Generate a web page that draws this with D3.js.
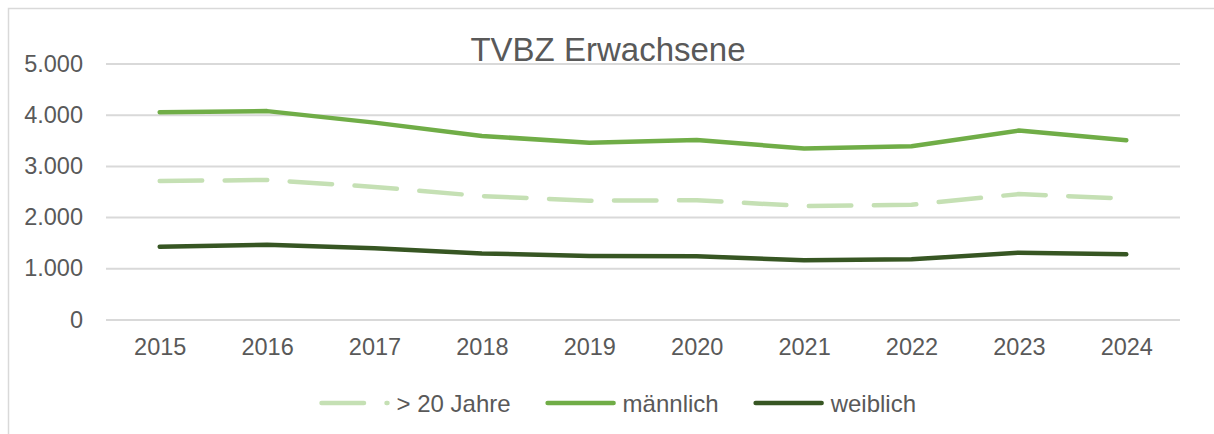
<!DOCTYPE html>
<html lang="de">
<head>
    <meta charset="UTF-8">
    <title>TVBZ Erwachsene</title>
    <script src="https://d3js.org/d3.v7.min.js"></script>
    <style>
        body { margin: 0; background: #fff; }
        text { font-family: "Liberation Sans", Arial, sans-serif; fill: #595959; }
    </style>
</head>
<body>
    <div id="chart-container"></div>

    <script>
        // data
        const years = ["2015", "2016", "2017", "2018", "2019", "2020", "2021", "2022", "2023", "2024"];
        const ueber20 = [2705, 2725, 2590, 2410, 2320, 2330, 2215, 2240, 2450, 2360];
        const maennlich = [4050, 4070, 3845, 3585, 3450, 3505, 3340, 3385, 3690, 3500];
        const weiblich = [1420, 1460, 1390, 1290, 1240, 1235, 1155, 1175, 1305, 1273];
        const yTicks = [0, 1000, 2000, 3000, 4000, 5000];

        const series = [
            { name: "> 20 Jahre", values: ueber20, color: "#C5E0B4", dash: "42.5,22.5" },
            { name: "männlich", values: maennlich, color: "#70AD47", dash: null },
            { name: "weiblich", values: weiblich, color: "#375623", dash: null }
        ];

        const width = 1214, height = 434;

        const svg = d3.select("#chart-container")
            .append("svg")
            .attr("width", width)
            .attr("height", height);

        // chart frame (cut off at right/bottom like the screenshot)
        svg.append("rect")
            .attr("x", 8.5).attr("y", 8.5)
            .attr("width", 1400).attr("height", 600)
            .attr("fill", "none")
            .attr("stroke", "#D9D9D9")
            .attr("stroke-width", 1.5);

        const x = d3.scalePoint()
            .domain(years)
            .range([106, 1180])
            .padding(0.5);

        const y = d3.scaleLinear()
            .domain([0, 5000])
            .range([319.5, 63.5]);

        const de = d3.formatLocale({ decimal: ",", thousands: ".", grouping: [3], currency: ["", " €"] });

        // gridlines + y labels
        const yAxis = svg.append("g")
            .attr("class", "y-axis")
            .attr("transform", "translate(106,0)")
            .call(d3.axisLeft(y).tickValues(yTicks).tickSize(-1074).tickPadding(23).tickFormat(de.format(",d")));
        yAxis.select(".domain").remove();
        yAxis.selectAll("line").attr("stroke", "#D9D9D9").attr("stroke-width", 2);
        yAxis.selectAll("text")
            .style("font-size", "23.5px")
            .attr("fill", "#595959")
            .style("font-family", "'Liberation Sans', Arial, sans-serif");

        // x labels
        const xAxis = svg.append("g")
            .attr("class", "x-axis")
            .attr("transform", "translate(0,319.5)")
            .call(d3.axisBottom(x).tickSize(0).tickPadding(19));
        xAxis.select(".domain").remove();
        xAxis.selectAll("text")
            .style("font-size", "23.5px")
            .attr("fill", "#595959")
            .style("font-family", "'Liberation Sans', Arial, sans-serif");

        // lines
        const line = d3.line()
            .x(function(d, i) { return x(years[i]); })
            .y(function(d) { return y(d); });

        series.forEach(function(s) {
            svg.append("path")
                .datum(s.values)
                .attr("fill", "none")
                .attr("stroke", s.color)
                .attr("stroke-width", 4.5)
                .attr("stroke-linecap", "round")
                .attr("stroke-linejoin", "round")
                .attr("stroke-dasharray", s.dash)
                .attr("d", line);
        });

        // title
        svg.append("text")
            .attr("x", 608)
            .attr("y", 60.5)
            .attr("text-anchor", "middle")
            .style("font-size", "33px")
            .text("TVBZ Erwachsene");

        // legend
        const legend = svg.append("g").attr("class", "legend");
        const sampleLen = 66, textGap = 9, itemGap = 37, legendY = 403;
        let cursor = 0;
        series.forEach(function(s) {
            const g = legend.append("g");
            g.append("line")
                .attr("x1", 0).attr("x2", sampleLen)
                .attr("y1", 0).attr("y2", 0)
                .attr("stroke", s.color)
                .attr("stroke-width", 4.5)
                .attr("stroke-linecap", "round")
                .attr("stroke-dasharray", s.dash);
            const t = g.append("text")
                .attr("x", sampleLen + textGap)
                .attr("y", 8.5)
                .style("font-size", "24px")
                .text(s.name);
            const w = sampleLen + textGap + t.node().getComputedTextLength();
            g.attr("transform", "translate(" + cursor + ",0)");
            cursor += w + itemGap;
        });
        legend.attr("transform", "translate(321.5," + legendY + ")");
    </script>
</body>
</html>
